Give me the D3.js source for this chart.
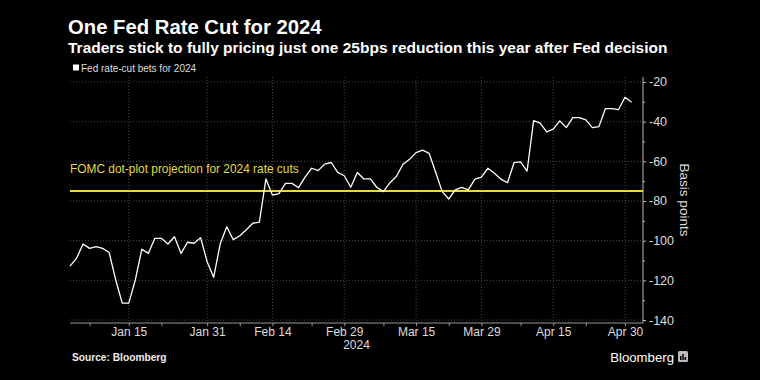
<!DOCTYPE html>
<html><head><meta charset="utf-8">
<script src="https://cdn.jsdelivr.net/npm/d3@7"></script>
<style>
html,body{margin:0;padding:0;background:#000;}
svg{display:block;}
</style></head>
<body>
<svg id="c" width="760" height="380"></svg>
<script>
// ---- data ----
const dates = [
"2024-01-02","2024-01-03","2024-01-04","2024-01-05","2024-01-08","2024-01-09","2024-01-10","2024-01-11","2024-01-12",
"2024-01-15","2024-01-16","2024-01-17","2024-01-18","2024-01-19","2024-01-22","2024-01-23","2024-01-24","2024-01-25","2024-01-26",
"2024-01-29","2024-01-30","2024-01-31","2024-02-01","2024-02-02","2024-02-05","2024-02-06","2024-02-07","2024-02-08","2024-02-09",
"2024-02-12","2024-02-13","2024-02-14","2024-02-15","2024-02-16","2024-02-19","2024-02-20","2024-02-21","2024-02-22","2024-02-23",
"2024-02-26","2024-02-27","2024-02-28","2024-02-29","2024-03-01","2024-03-04","2024-03-05","2024-03-06","2024-03-07","2024-03-08",
"2024-03-11","2024-03-12","2024-03-13","2024-03-14","2024-03-15","2024-03-18","2024-03-19","2024-03-20","2024-03-21","2024-03-22",
"2024-03-25","2024-03-26","2024-03-27","2024-03-28","2024-03-29","2024-04-01","2024-04-02","2024-04-03","2024-04-04","2024-04-05",
"2024-04-08","2024-04-09","2024-04-10","2024-04-11","2024-04-12","2024-04-15","2024-04-16","2024-04-17","2024-04-18","2024-04-19",
"2024-04-22","2024-04-23","2024-04-24","2024-04-25","2024-04-26","2024-04-29","2024-04-30","2024-05-01"];
const rateCutBets = [
-112.8,-108.9,-101.7,-103.9,-103.0,-103.9,-106.0,-119.8,-131.5,
-131.5,-119.8,-104.3,-106.4,-98.8,-98.8,-101.7,-98.0,-106.4,-100.8,
-101.3,-98.5,-110.6,-118.5,-101.7,-93.0,-99.5,-97.5,-94.5,-91.2,
-90.7,-68.9,-77.0,-76.3,-71.1,-71.1,-73.3,-68.0,-63.5,-64.7,
-61.4,-60.6,-65.6,-67.3,-73.1,-65.6,-68.9,-68.9,-73.2,-75.3,
-70.8,-67.5,-61.5,-59.0,-55.6,-54.4,-56.0,-65.5,-75.3,-79.0,
-74.4,-73.1,-74.4,-69.0,-68.0,-63.5,-66.0,-69.0,-70.8,-60.7,
-60.3,-64.9,-39.5,-40.8,-45.2,-43.8,-39.6,-43.0,-38.0,-38.0,
-39.1,-43.0,-42.5,-33.4,-33.4,-33.9,-27.7,-30.2];
const dotPlotProjection = -75;
const xTickLabels = ["Jan 15","Jan 31","Feb 14","Feb 29","Mar 15","Mar 29","Apr 15","Apr 30"];
const xTickDates = ["2024-01-15","2024-01-31","2024-02-14","2024-02-29","2024-03-15","2024-03-29","2024-04-15","2024-04-30"];
const xMinorDates = ["2024-01-05","2024-01-22","2024-02-07","2024-02-22","2024-03-08","2024-03-22","2024-04-08","2024-04-22"];
const yTicks = [-20,-40,-60,-80,-100,-120,-140];
const yMinorTicks = [-30,-50,-70,-90,-110,-130];

// ---- layout ----
const svg = d3.select("#c");
const L = 70, R = 643, T = 77, B = 323;
svg.append("rect").attr("width",760).attr("height",380).attr("fill","#000");

const idx = d => dates.indexOf(d);
const x = d3.scaleLinear().domain([0, 87.75]).range([L, R]);
const y = d3.scaleLinear().domain([-141.5, -17.5]).range([B, T]);

const FONT = "'Liberation Sans', Arial, sans-serif";
const NARROW = "'Liberation Sans Narrow', 'Liberation Sans', Arial, sans-serif";

// title
svg.append("text").attr("x",68).attr("y",33.5).attr("fill","#fff")
  .attr("font-family",FONT).attr("font-weight","bold").attr("font-size",20.3)
  .text("One Fed Rate Cut for 2024");
svg.append("text").attr("x",68).attr("y",53).attr("fill","#fff")
  .attr("font-family",FONT).attr("font-weight","bold").attr("font-size",15.5)
  .text("Traders stick to fully pricing just one 25bps reduction this year after Fed decision");
// legend
svg.append("rect").attr("x",73).attr("y",64.5).attr("width",6).attr("height",6).attr("fill","#fff");
svg.append("text").attr("x",81).attr("y",71.5).attr("fill","#ddd")
  .attr("font-family",NARROW).attr("font-size",10)
  .text("Fed rate-cut bets for 2024");

// gridlines
const grid = svg.append("g");
grid.selectAll("line.h").data(yTicks).join("line")
  .attr("x1",L).attr("x2",R).attr("y1",d=>y(d)).attr("y2",d=>y(d))
  .attr("stroke","#4a4a4a").attr("stroke-width",1).attr("stroke-dasharray","1,2");
grid.selectAll("line.v").data(xTickDates).join("line")
  .attr("x1",d=>x(idx(d))).attr("x2",d=>x(idx(d))).attr("y1",T).attr("y2",B)
  .attr("stroke","#4a4a4a").attr("stroke-width",1).attr("stroke-dasharray","1,2");

// y axis (right)
const yAxis = d3.axisRight(y).tickValues(yTicks).tickSize(3).tickPadding(3).tickFormat(d=>d);
const gy = svg.append("g").attr("transform",`translate(${R},0)`).call(yAxis);
gy.select(".domain").attr("stroke","#bbb").attr("d",`M0,${T}V${B}`);
gy.selectAll(".tick line").attr("stroke","#bbb");
gy.selectAll(".tick text").attr("fill","#ddd").attr("font-family",FONT).attr("font-size",12.5);
const gyMinor = svg.append("g").attr("transform",`translate(${R},0)`)
  .call(d3.axisRight(y).tickValues(yMinorTicks).tickSize(2).tickFormat(""));
gyMinor.select(".domain").remove();
gyMinor.selectAll(".tick line").attr("stroke","#bbb");

svg.append("text").attr("transform",`translate(${680},${200}) rotate(90)`)
  .attr("text-anchor","middle").attr("fill","#ddd").attr("font-family",FONT).attr("font-size",13.5)
  .text("Basis points");

// x axis
const xAxis = d3.axisBottom(x).tickValues(xTickDates.map(idx)).tickSize(3).tickPadding(3)
  .tickFormat((d,i)=>xTickLabels[i]);
const gx = svg.append("g").attr("transform",`translate(0,${B})`).call(xAxis);
gx.select(".domain").attr("stroke","#999").attr("d",`M${L},0H${R}`);
gx.selectAll(".tick line").attr("stroke","#999");
gx.selectAll(".tick text").attr("y",4).attr("fill","#ddd").attr("font-family",NARROW).attr("font-size",12);
const gxMinor = svg.append("g").attr("transform",`translate(0,${B})`)
  .call(d3.axisBottom(x).tickValues(xMinorDates.map(idx)).tickSize(3).tickFormat(""));
gxMinor.select(".domain").remove();
gxMinor.selectAll(".tick line").attr("stroke","#999");
svg.append("text").attr("x",(L+R)/2).attr("y",349).attr("text-anchor","middle")
  .attr("fill","#ddd").attr("font-family",NARROW).attr("font-size",12).text("2024");

// dot-plot projection line + label
svg.append("line").attr("x1",L).attr("x2",R).attr("y1",y(dotPlotProjection)).attr("y2",y(dotPlotProjection))
  .attr("stroke","#e3dc3a").attr("stroke-width",2);
svg.append("text").attr("x",L).attr("y",y(dotPlotProjection)-18.5).attr("fill","#e3dc3a")
  .attr("font-family",NARROW).attr("font-size",11.9)
  .text("FOMC dot-plot projection for 2024 rate cuts");

// line
const line = d3.line().x((d,i)=>x(i)).y(d=>y(d));
svg.append("path").datum(rateCutBets).attr("d",line).attr("fill","none")
  .attr("stroke","#fff").attr("stroke-width",1.3).attr("stroke-linejoin","round");

// footer
svg.append("text").attr("x",72).attr("y",361).attr("fill","#eee")
  .attr("font-family",FONT).attr("font-weight","bold").attr("font-size",10.2).text("Source: Bloomberg");
svg.append("text").attr("x",674).attr("y",362).attr("text-anchor","end").attr("fill","#fff")
  .attr("font-family",FONT).attr("font-size",13.2).text("Bloomberg");
const ic = svg.append("g").attr("transform","translate(678,351)");
ic.append("rect").attr("width",10).attr("height",11).attr("rx",1.5).attr("fill","#bbb");
ic.append("rect").attr("x",2).attr("y",5).attr("width",1.5).attr("height",4).attr("fill","#000");
ic.append("rect").attr("x",4.3).attr("y",3).attr("width",1.5).attr("height",6).attr("fill","#000");
ic.append("rect").attr("x",6.6).attr("y",6).attr("width",1.5).attr("height",3).attr("fill","#000");
</script>
</body></html>
